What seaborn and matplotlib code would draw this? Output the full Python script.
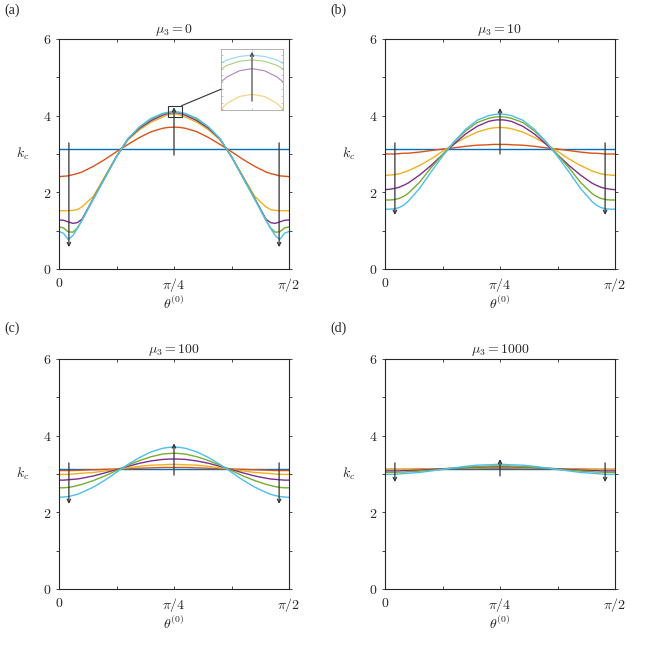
import numpy as np
import pandas as pd
import seaborn as sns
import matplotlib.pyplot as plt
from matplotlib.patches import Rectangle, ConnectionPatch

# theta^(0) sample points, as fractions of pi/2
theta_frac = [0, 0.02, 0.04, 0.06, 0.08, 0.10, 0.15, 0.20, 0.25, 0.30, 0.35, 0.40, 0.45,
              0.47, 0.48, 0.49, 0.5, 0.51, 0.52, 0.53, 0.55, 0.60, 0.65, 0.70, 0.75, 0.80,
              0.85, 0.90, 0.92, 0.94, 0.96, 0.98, 1.0]
flat_frac = [0, 1.0]
k_flat = [3.14, 3.14]

panel_tags = ['(a)', '(b)', '(c)', '(d)']
mu3_labels = ['0', '10', '100', '1000']
series_names = ['s1', 's2', 's3', 's4', 's5']

# (a) mu3 = 0
red_a = [2.41, 2.42, 2.43, 2.46, 2.49, 2.53, 2.68, 2.86, 3.06, 3.25, 3.43, 3.58, 3.67, 3.689, 3.695, 3.699, 3.70,
         3.699, 3.695, 3.689, 3.67, 3.58, 3.43, 3.25, 3.06, 2.86, 2.68, 2.53, 2.49, 2.46, 2.43, 2.42, 2.41]
yellow_a = [1.52, 1.52, 1.52, 1.53, 1.55, 1.62, 1.90, 2.42, 2.94, 3.37, 3.63, 3.83, 3.962, 4.012, 4.029, 4.039, 4.042,
            4.039, 4.029, 4.012, 3.962, 3.83, 3.63, 3.37, 2.94, 2.42, 1.90, 1.62, 1.55, 1.53, 1.52, 1.52, 1.52]
purple_a = [1.28, 1.27, 1.23, 1.19, 1.21, 1.30, 1.85, 2.39, 2.93, 3.39, 3.67, 3.87, 4.010, 4.053, 4.068, 4.077, 4.080,
            4.077, 4.068, 4.053, 4.010, 3.87, 3.67, 3.39, 2.93, 2.39, 1.85, 1.30, 1.21, 1.19, 1.23, 1.27, 1.28]
green_a = [1.10, 1.07, 0.97, 0.96, 1.07, 1.27, 1.84, 2.385, 2.93, 3.40, 3.70, 3.91, 4.044, 4.074, 4.085, 4.091, 4.093,
           4.091, 4.085, 4.074, 4.044, 3.91, 3.70, 3.40, 2.93, 2.385, 1.84, 1.27, 1.07, 0.96, 0.97, 1.07, 1.10]
cyan_a = [0.98, 0.93, 0.77, 0.87, 1.06, 1.27, 1.83, 2.38, 2.93, 3.40, 3.71, 3.93, 4.056, 4.083, 4.093, 4.098, 4.100,
          4.098, 4.093, 4.083, 4.056, 3.93, 3.71, 3.40, 2.93, 2.38, 1.83, 1.27, 1.06, 0.87, 0.77, 0.93, 0.98]

# (b) mu3 = 10
red_b = [3.00, 3.00, 3.00, 3.01, 3.02, 3.02, 3.05, 3.09, 3.13, 3.16, 3.20, 3.23, 3.24, 3.25, 3.25, 3.25, 3.25,
         3.25, 3.25, 3.25, 3.24, 3.23, 3.20, 3.16, 3.13, 3.09, 3.05, 3.02, 3.02, 3.01, 3.00, 3.00, 3.00]
yellow_b = [2.44, 2.45, 2.46, 2.48, 2.52, 2.56, 2.70, 2.87, 3.07, 3.26, 3.43, 3.57, 3.66, 3.68, 3.685, 3.69, 3.69,
            3.69, 3.685, 3.68, 3.66, 3.57, 3.43, 3.26, 3.07, 2.87, 2.70, 2.56, 2.52, 2.48, 2.46, 2.45, 2.44]
purple_b = [2.07, 2.08, 2.10, 2.13, 2.18, 2.24, 2.45, 2.70, 2.98, 3.26, 3.52, 3.72, 3.85, 3.875, 3.885, 3.89, 3.89,
            3.89, 3.885, 3.875, 3.85, 3.72, 3.52, 3.26, 2.98, 2.70, 2.45, 2.24, 2.18, 2.13, 2.10, 2.08, 2.07]
green_b = [1.80, 1.80, 1.81, 1.84, 1.89, 1.97, 2.26, 2.64, 2.98, 3.31, 3.60, 3.82, 3.93, 3.955, 3.965, 3.97, 3.97,
           3.97, 3.965, 3.955, 3.93, 3.82, 3.60, 3.31, 2.98, 2.64, 2.26, 1.97, 1.89, 1.84, 1.81, 1.80, 1.80]
cyan_b = [1.56, 1.56, 1.57, 1.60, 1.66, 1.76, 2.10, 2.53, 2.94, 3.32, 3.64, 3.88, 4.00, 4.025, 4.035, 4.04, 4.04,
          4.04, 4.035, 4.025, 4.00, 3.88, 3.64, 3.32, 2.94, 2.53, 2.10, 1.76, 1.66, 1.60, 1.57, 1.56, 1.56]

# (c) mu3 = 100
red_c = [3.09, 3.09, 3.09, 3.09, 3.095, 3.10, 3.11, 3.12, 3.13, 3.14, 3.15, 3.16, 3.17, 3.17, 3.17, 3.17, 3.17,
         3.17, 3.17, 3.17, 3.17, 3.16, 3.15, 3.14, 3.13, 3.12, 3.11, 3.10, 3.095, 3.09, 3.09, 3.09, 3.09]
yellow_c = [2.99, 2.99, 2.99, 3.00, 3.01, 3.02, 3.04, 3.08, 3.12, 3.16, 3.20, 3.23, 3.24, 3.245, 3.25, 3.25, 3.25,
            3.25, 3.25, 3.245, 3.24, 3.23, 3.20, 3.16, 3.12, 3.08, 3.04, 3.02, 3.01, 3.00, 2.99, 2.99, 2.99]
purple_c = [2.84, 2.84, 2.85, 2.86, 2.87, 2.89, 2.95, 3.03, 3.115, 3.20, 3.28, 3.34, 3.38, 3.385, 3.39, 3.39, 3.39,
            3.39, 3.39, 3.385, 3.38, 3.34, 3.28, 3.20, 3.115, 3.03, 2.95, 2.89, 2.87, 2.86, 2.85, 2.84, 2.84]
green_c = [2.64, 2.64, 2.65, 2.67, 2.70, 2.73, 2.83, 2.95, 3.09, 3.23, 3.35, 3.45, 3.52, 3.53, 3.535, 3.54, 3.54,
           3.54, 3.535, 3.53, 3.52, 3.45, 3.35, 3.23, 3.09, 2.95, 2.83, 2.73, 2.70, 2.67, 2.65, 2.64, 2.64]
cyan_c = [2.39, 2.40, 2.41, 2.44, 2.47, 2.52, 2.66, 2.84, 3.045, 3.25, 3.43, 3.575, 3.67, 3.688, 3.695, 3.70, 3.70,
          3.70, 3.695, 3.688, 3.67, 3.575, 3.43, 3.25, 3.045, 2.84, 2.66, 2.52, 2.47, 2.44, 2.41, 2.40, 2.39]

# (d) mu3 = 1000
red_d = [3.12, 3.12, 3.12, 3.12, 3.12, 3.12, 3.13, 3.13, 3.135, 3.14, 3.145, 3.15, 3.15, 3.15, 3.15, 3.15, 3.15,
         3.15, 3.15, 3.15, 3.15, 3.15, 3.145, 3.14, 3.135, 3.13, 3.13, 3.12, 3.12, 3.12, 3.12, 3.12, 3.12]
yellow_d = [3.11, 3.11, 3.11, 3.11, 3.11, 3.12, 3.12, 3.13, 3.14, 3.15, 3.16, 3.16, 3.17, 3.17, 3.17, 3.17, 3.17,
            3.17, 3.17, 3.17, 3.17, 3.16, 3.16, 3.15, 3.14, 3.13, 3.12, 3.12, 3.11, 3.11, 3.11, 3.11, 3.11]
purple_d = [3.08, 3.08, 3.08, 3.08, 3.09, 3.09, 3.10, 3.12, 3.135, 3.15, 3.17, 3.18, 3.19, 3.19, 3.19, 3.19, 3.19,
            3.19, 3.19, 3.19, 3.19, 3.18, 3.17, 3.15, 3.135, 3.12, 3.10, 3.09, 3.09, 3.08, 3.08, 3.08, 3.08]
green_d = [3.04, 3.04, 3.04, 3.05, 3.05, 3.06, 3.075, 3.10, 3.125, 3.15, 3.175, 3.19, 3.205, 3.21, 3.21, 3.21, 3.21,
           3.21, 3.21, 3.21, 3.205, 3.19, 3.175, 3.15, 3.125, 3.10, 3.075, 3.06, 3.05, 3.05, 3.04, 3.04, 3.04]
cyan_d = [2.99, 2.99, 2.99, 3.00, 3.01, 3.02, 3.04, 3.08, 3.12, 3.16, 3.20, 3.23, 3.24, 3.245, 3.25, 3.25, 3.25,
          3.25, 3.25, 3.245, 3.24, 3.23, 3.20, 3.16, 3.12, 3.08, 3.04, 3.02, 3.01, 3.00, 2.99, 2.99, 2.99]

panel_curves = [
    [red_a, yellow_a, purple_a, green_a, cyan_a],
    [red_b, yellow_b, purple_b, green_b, cyan_b],
    [red_c, yellow_c, purple_c, green_c, cyan_c],
    [red_d, yellow_d, purple_d, green_d, cyan_d],
]

# arrows: theta position (fraction of pi/2), start k, end k  (left, middle, right)
arrow_frac = [0.043, 0.5, 0.957]
arrow_start = [[3.29, 2.97, 3.29], [3.29, 3.00, 3.29], [3.29, 2.97, 3.29], [3.29, 2.95, 3.29]]
arrow_end = [[0.57, 4.22, 0.57], [1.41, 4.20, 1.41], [2.22, 3.80, 2.22], [2.79, 3.39, 2.79]]

# inset arrow in (a)
inset_arrow = [4.032, 4.105]

colors = {'flat': (0.0, 0.447, 0.741), 's1': (0.85, 0.325, 0.098), 's2': (0.929, 0.694, 0.125),
          's3': (0.494, 0.184, 0.556), 's4': (0.466, 0.674, 0.188), 's5': (0.301, 0.745, 0.933)}
hue_order = ['flat'] + series_names

sns.set_style('ticks')
plt.rcParams['font.family'] = ['DejaVu Serif']
plt.rcParams['mathtext.fontset'] = 'cm'

half_pi = np.pi / 2


def make_frame(curves):
    rows = []
    for f, k in zip(flat_frac, k_flat):
        rows.append(('flat', f * half_pi, k))
    for name, vals in zip(series_names, curves):
        for f, k in zip(theta_frac, vals):
            rows.append((name, f * half_pi, k))
    return pd.DataFrame(rows, columns=['series', 'theta', 'k'])


fig = plt.figure(figsize=(6.64, 6.52), dpi=100)
W, H = 664, 652
boxes = [(59, 39), (385, 39), (59, 359), (385, 359)]
tag_pos = [(4, 10), (330, 10), (4, 328), (330, 328)]
spine_c = '0.15'

for i in range(4):
    x0, y0 = boxes[i]
    ax = fig.add_axes([x0 / W, 1 - (y0 + 230) / H, 230 / W, 230 / H])
    df = make_frame(panel_curves[i])
    sns.lineplot(data=df, x='theta', y='k', hue='series', hue_order=hue_order, palette=colors,
                 errorbar=None, legend=False, lw=1.0, ax=ax)
    ax.set_xlim(0, half_pi)
    ax.set_ylim(0, 6)
    ax.set_xticks([0, np.pi / 8, np.pi / 4, 3 * np.pi / 8, np.pi / 2])
    ax.set_xticklabels(['$0$', '', r'$\pi/4$', '', r'$\pi/2$'])
    ax.set_yticks(range(7))
    ax.set_yticklabels(['$0$', '', '$2$', '', '$4$', '', '$6$'])
    ax.tick_params(axis='x', direction='in', top=True, length=2.5, width=0.6, color=spine_c,
                   labelsize=10, pad=5)
    ax.tick_params(axis='y', direction='out', right=True, length=2.5, width=0.6, color=spine_c,
                   labelsize=10, pad=3)
    for s in ax.spines.values():
        s.set_color(spine_c)
        s.set_linewidth(0.8)
    ax.set_title(r'$\mu_3 = ' + mu3_labels[i] + '$', fontsize=10, pad=4)
    ax.set_xlabel(r'$\theta^{(0)}$', fontsize=10)
    ax.xaxis.set_label_coords(0.5, -0.15)
    ax.xaxis.label.set_va('center')
    ax.set_ylabel('$k_c$', fontsize=10, rotation=0)
    ax.yaxis.set_label_coords(-0.16, 0.5)
    ax.yaxis.label.set_va('center')
    ax.yaxis.label.set_ha('center')

    for f, ks, ke in zip(arrow_frac, arrow_start[i], arrow_end[i]):
        ax.annotate('', xy=(f * half_pi, ke), xytext=(f * half_pi, ks),
                    arrowprops=dict(arrowstyle='->', color='0.2', lw=0.9, shrinkA=0, shrinkB=0,
                                    mutation_scale=6))

    tx, ty = tag_pos[i]
    fig.text(tx / W, 1 - ty / H, panel_tags[i], fontsize=10, family='Liberation Serif',
             va='center', ha='left')

    if i == 0:
        # zoom box and inset
        ax.add_patch(Rectangle((0.475 * half_pi, 3.96), 0.058 * half_pi, 0.30, fill=False,
                               edgecolor='0.2', lw=0.8, zorder=5))
        axin = fig.add_axes([221 / W, 1 - 110 / H, 62 / W, 61 / H])
        sns.lineplot(data=df[df['series'] != 'flat'], x='theta', y='k', hue='series',
                     hue_order=series_names, palette=colors, errorbar=None, legend=False,
                     lw=0.8, alpha=0.6, ax=axin)
        axin.set_xlim(0.475 * half_pi, 0.525 * half_pi)
        axin.set_ylim(4.019, 4.109)
        axin.set_xticks([np.pi / 4])
        axin.set_yticks(np.arange(4.02, 4.105, 0.01))
        axin.tick_params(direction='in', top=True, right=True, length=1.5, width=0.4,
                         color='0.6', labelbottom=False, labelleft=False)
        axin.set_xlabel('')
        axin.set_ylabel('')
        for s in axin.spines.values():
            s.set_color('0.65')
            s.set_linewidth(0.6)
        axin.annotate('', xy=(np.pi / 4, inset_arrow[1]), xytext=(np.pi / 4, inset_arrow[0]),
                      arrowprops=dict(arrowstyle='->', color='0.3', lw=0.9, shrinkA=0, shrinkB=0,
                                      mutation_scale=6))
        con = ConnectionPatch(xyA=(0.533 * half_pi, 4.26), coordsA=ax.transData,
                              xyB=(0, 0.34), coordsB=axin.transAxes, color='0.2', lw=0.8)
        fig.add_artist(con)

fig.savefig('out.png', dpi=100)
